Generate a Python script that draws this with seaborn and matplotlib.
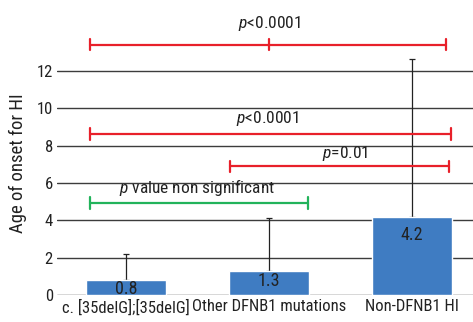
import matplotlib
matplotlib.use("Agg")
import matplotlib.pyplot as plt
import seaborn as sns
import pandas as pd

# Dados
grupos = ["c. [35delG];[35delG]", "Other DFNB1 mutations", "Non-DFNB1 HI"]
idade_media = [0.8, 1.3, 4.2]
erro_sup = [2.2, 4.15, 12.65]  # topo da barra de erro
yticks = [0, 2, 4, 6, 8, 10, 12]

# comparações: (x0, x1, y linha, texto, x texto, y texto, cor, marca do meio)
comparacoes = [
    (-0.25, 2.24, 13.4, "p<0.0001", 1.0, 14.03, "#e8202a", 1.0),
    (-0.25, 2.27, 8.62, "p<0.0001", 0.99, 8.94, "#e8202a", None),
    (0.73, 2.26, 6.9, "p=0.01", 1.53, 7.07, "#e8202a", None),
    (-0.25, 1.27, 4.93, "p value non significant", 0.5, 5.2, "#22b35b", None),
]

sns.set_style("white")
plt.rcParams['font.family'] = ['Roboto Condensed', 'DejaVu Sans']
plt.rcParams['mathtext.fontset'] = 'custom'
plt.rcParams['mathtext.it'] = 'Roboto Condensed:italic'
plt.rcParams['mathtext.rm'] = 'Roboto Condensed'

df = pd.DataFrame({"grupo": grupos, "idade": idade_media})

fig = plt.figure(figsize=(4.73, 3.22), dpi=100)
ax = fig.add_axes([57 / 473, 1 - 295 / 322, 416 / 473, 295 / 322])

ax.set_axisbelow(True)
for t in yticks:
    ax.axhline(t, color="#3c3c3c", lw=1.0, zorder=0)

sns.barplot(data=df, x="grupo", y="idade", color="#3f7cc2", saturation=1,
            width=0.56, ax=ax, zorder=2)

cima = [e - m for e, m in zip(erro_sup, idade_media)]
ax.errorbar(range(len(grupos)), idade_media, yerr=[[0] * 3, cima], fmt="none",
            ecolor="#222222", elinewidth=0.9, capsize=2.5, capthick=0.9, zorder=1)

# rótulos dentro das barras
for i, v in enumerate(idade_media):
    ax.text(i, 0.85 * v - 0.35, f"{v:.1f}", ha="center", va="center", fontsize=13,
            color="#222222", zorder=3)

for x0, x1, y, txt, tx, ty, cor, meio in comparacoes:
    ax.plot([x0, x1], [y, y], color=cor, lw=1.6, clip_on=False)
    marcas = [x0, x1] + ([meio] if meio is not None else [])
    for xm in marcas:
        ax.plot([xm, xm], [y - 0.3, y + 0.3], color=cor, lw=1.6, clip_on=False)
    rotulo = "$p$" + txt[1:]
    ax.text(tx, ty, rotulo, ha="center", va="bottom", fontsize=12.5, color="#222222")

ax.set_xlim(-0.483, 2.427)
ax.set_ylim(0, 15.8)
ax.set_yticks(yticks)
ax.tick_params(axis="both", length=0, labelsize=12, colors="#222222", pad=3)
ax.set_xlabel("")
ax.set_ylabel("Age of onset for HI", fontsize=13.5, color="#222222")
ax.yaxis.set_label_coords(-0.072, 0.447)
sns.despine(left=True, bottom=True, top=True, right=True)

plt.savefig("out.png", dpi=100)
